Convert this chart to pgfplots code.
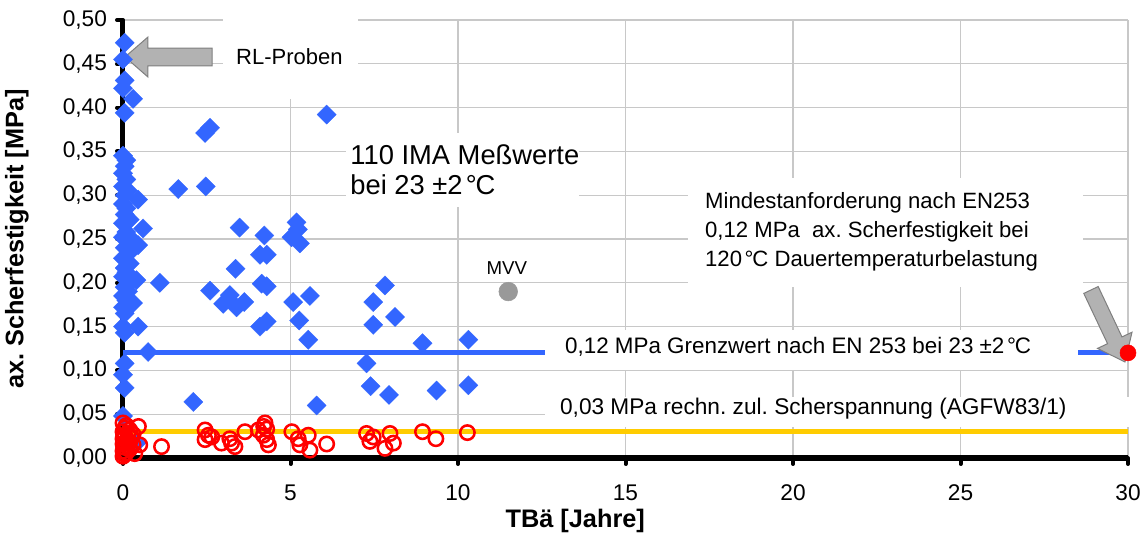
\documentclass[border=0pt]{standalone}
\usepackage{fontspec}
\setmainfont{Liberation Sans}
\usepackage{pgfplots}
\pgfplotsset{compat=1.18}
\frenchspacing

\definecolor{dblue}{HTML}{3366FF}
\definecolor{lyellow}{HTML}{FFCC00}
\definecolor{mred}{HTML}{FF0000}
\definecolor{mvvgray}{HTML}{999999}
\definecolor{arrowfill}{HTML}{B2B2B2}
\definecolor{arrowline}{HTML}{7F7F7F}
\definecolor{gridgray}{HTML}{C8C8C8}

% shear strength of the IMA samples (diamonds)
\pgfplotstableread{
x y
0.05 0.474
0.00 0.455
0.05 0.431
0.00 0.422
0.30 0.410
0.05 0.394
0.00 0.345
0.10 0.340
0.05 0.333
0.00 0.325
0.10 0.318
0.00 0.310
0.15 0.305
0.05 0.300
0.45 0.295
0.00 0.290
0.10 0.285
0.05 0.278
0.20 0.272
0.00 0.268
0.60 0.262
0.10 0.258
0.00 0.252
0.30 0.248
0.45 0.243
0.05 0.240
0.15 0.233
0.00 0.228
0.20 0.222
0.05 0.217
0.10 0.212
0.00 0.207
0.40 0.203
0.20 0.200
0.05 0.195
0.15 0.190
0.00 0.185
0.10 0.180
0.30 0.177
0.00 0.172
0.05 0.165
0.45 0.150
0.00 0.150
0.05 0.143
0.75 0.121
0.05 0.108
0.00 0.095
0.05 0.080
0.00 0.048
0.40 0.017
1.10 0.200
1.65 0.307
2.10 0.064
2.45 0.371
2.60 0.377
2.47 0.310
2.60 0.191
2.99 0.176
3.19 0.186
3.39 0.172
3.62 0.178
3.36 0.216
3.48 0.263
4.09 0.232
4.29 0.232
4.14 0.199
4.29 0.196
4.22 0.254
4.09 0.150
4.29 0.156
5.03 0.252
5.22 0.261
5.18 0.269
5.28 0.245
5.08 0.178
5.26 0.157
5.58 0.185
5.53 0.135
5.78 0.060
6.08 0.392
7.27 0.108
7.39 0.082
7.47 0.178
7.47 0.152
7.82 0.197
7.94 0.072
8.12 0.161
8.94 0.131
9.36 0.077
10.31 0.135
10.31 0.083
}\strength

% computed shear stress (open circles)
\pgfplotstableread{
x y
0.00 0.040
0.10 0.037
0.05 0.034
0.20 0.032
0.00 0.030
0.15 0.028
0.05 0.026
0.25 0.024
0.00 0.022
0.10 0.020
0.20 0.018
0.00 0.016
0.10 0.014
0.05 0.012
0.20 0.010
0.00 0.008
0.10 0.006
0.05 0.004
0.00 0.002
0.30 0.027
0.30 0.015
0.46 0.036
0.50 0.015
0.35 0.005
1.15 0.013
2.45 0.032
2.55 0.026
2.45 0.021
2.65 0.024
2.94 0.017
3.19 0.022
3.34 0.013
3.24 0.017
3.64 0.030
4.04 0.032
4.24 0.040
4.29 0.033
4.19 0.026
4.29 0.021
4.34 0.015
4.20 0.036
5.04 0.030
5.23 0.022
5.53 0.026
5.28 0.015
5.58 0.009
6.08 0.016
7.27 0.028
7.47 0.024
7.37 0.019
7.97 0.028
8.07 0.017
7.82 0.011
8.94 0.030
9.34 0.022
10.28 0.029
}\stress

\newcommand{\degC}{\kern0.12em°\kern-0.05em C}

\begin{document}
\begin{tikzpicture}
\path[use as bounding box] (-92.25pt,-76.5pt) rectangle (765pt,343.5pt);
\begin{axis}[
  scale only axis, width=753.75pt, height=328.5pt,
  xmin=0, xmax=30, ymin=0, ymax=0.5,
  axis x line=bottom, axis y line=left,
  axis line style={-, black},
  x axis line style={line width=4.5pt},
  y axis line style={line width=3.75pt},
  xtick={0,5,10,15,20,25,30},
  ytick={0,0.05,0.1,0.15,0.2,0.25,0.3,0.35,0.4,0.45,0.5},
  grid=major, major grid style={gridgray, line width=1pt},
  tick align=outside, major tick length=4.5pt,
  tick style={black, line width=3pt, line cap=round},
  /pgf/number format/assume math mode=true,
  ticklabel style={font=\fontsize{17}{20}\selectfont},
  yticklabel style={xshift=-4pt, /pgf/number format/.cd, fixed, fixed zerofill, precision=2, use comma},
  xticklabel style={yshift=-12pt},
  clip=false,
  xlabel={TBä [Jahre]}, ylabel={ax. Scherfestigkeit [MPa]},
  every axis x label/.style={at={(axis description cs:0.45,0)}, yshift=-47.5pt, anchor=center,
    font=\bfseries\fontsize{19}{22}\selectfont},
  every axis y label/.style={at={(axis description cs:0,0.5)}, xshift=-79.5pt, rotate=90, anchor=center,
    font=\bfseries\fontsize{19}{22}\selectfont},
]
% limit lines
\addplot[dblue, line width=3.75pt] coordinates {(0,0.12) (30,0.12)};
\addplot[lyellow, line width=3.75pt] coordinates {(0,0.03) (30,0.03)};

% white backgrounds of the text boxes
\fill[white] (axis cs:2.976,0.4095) rectangle (axis cs:7.0,0.5035);
\fill[white] (axis cs:6.657,0.286) rectangle (axis cs:13.6,0.371);
\fill[white] (axis cs:16.866,0.195) rectangle (axis cs:28.66,0.320);
\fill[white] (axis cs:12.597,0.100) rectangle (axis cs:28.5,0.146);
\fill[white] (axis cs:12.597,0.0354) rectangle (axis cs:30.2,0.0696);

% labels
\node[anchor=west, inner sep=0pt, font=\fontsize{16.5}{20}\selectfont]
  at (axis cs:3.37,0.458) {RL-Proben};
\node[anchor=west, inner sep=0pt, align=left, font=\fontsize{20.5}{22.5}\selectfont]
  at (axis cs:6.78,0.329) {110 IMA Meßwerte\\bei 23 ±2\degC};
\node[anchor=west, inner sep=0pt, align=left, font=\fontsize{16.6}{21.75}\selectfont]
  at (axis cs:17.37,0.258) {Mindestanforderung nach EN253\\0,12 MPa\ \ ax. Scherfestigkeit bei\\120\degC\ Dauertemperaturbelastung};
\node[anchor=west, inner sep=0pt, font=\fontsize{16.8}{20}\selectfont]
  at (axis cs:13.19,0.127) {0,12 MPa Grenzwert nach EN 253 bei 23 ±2\degC};
\node[anchor=west, inner sep=0pt, font=\fontsize{17}{20}\selectfont]
  at (axis cs:13.04,0.056) {0,03 MPa rechn. zul. Scherspannung (AGFW83/1)};
\node[font=\fontsize{14}{16}\selectfont] at (axis cs:11.46,0.217) {MVV};

% pointer arrows
\filldraw[fill=arrowfill, draw=arrowline, line width=0.75pt]
  (axis cs:0.06,0.4578) -- (axis cs:0.746,0.4806) -- (axis cs:0.746,0.468)
  -- (axis cs:2.657,0.468) -- (axis cs:2.657,0.4475) -- (axis cs:0.746,0.4475)
  -- (axis cs:0.746,0.4349) -- cycle;
\filldraw[fill=arrowfill, draw=arrowline, line width=0.75pt]
  (axis cs:29.11,0.1957) -- (axis cs:29.82,0.1382) -- (axis cs:30.12,0.1436)
  -- (axis cs:29.91,0.1096) -- (axis cs:29.09,0.1251) -- (axis cs:29.39,0.1305)
  -- (axis cs:28.68,0.1879) -- cycle;

% measured values
\addplot[only marks, mark=square*, mark size=5.1pt,
  mark options={rotate=45, draw=dblue, fill=dblue, line width=0.2pt}] table {\strength};
\addplot[only marks, mark=o, mark size=5.4pt,
  mark options={draw=mred, line width=1.9pt}] table {\stress};
\addplot[only marks, mark=*, mark size=7pt,
  mark options={draw=mvvgray, fill=mvvgray}] coordinates {(11.5,0.19)};
\addplot[only marks, mark=*, mark size=6pt,
  mark options={draw=mred, fill=mred}] coordinates {(30,0.12)};
\end{axis}
\end{tikzpicture}
\end{document}
